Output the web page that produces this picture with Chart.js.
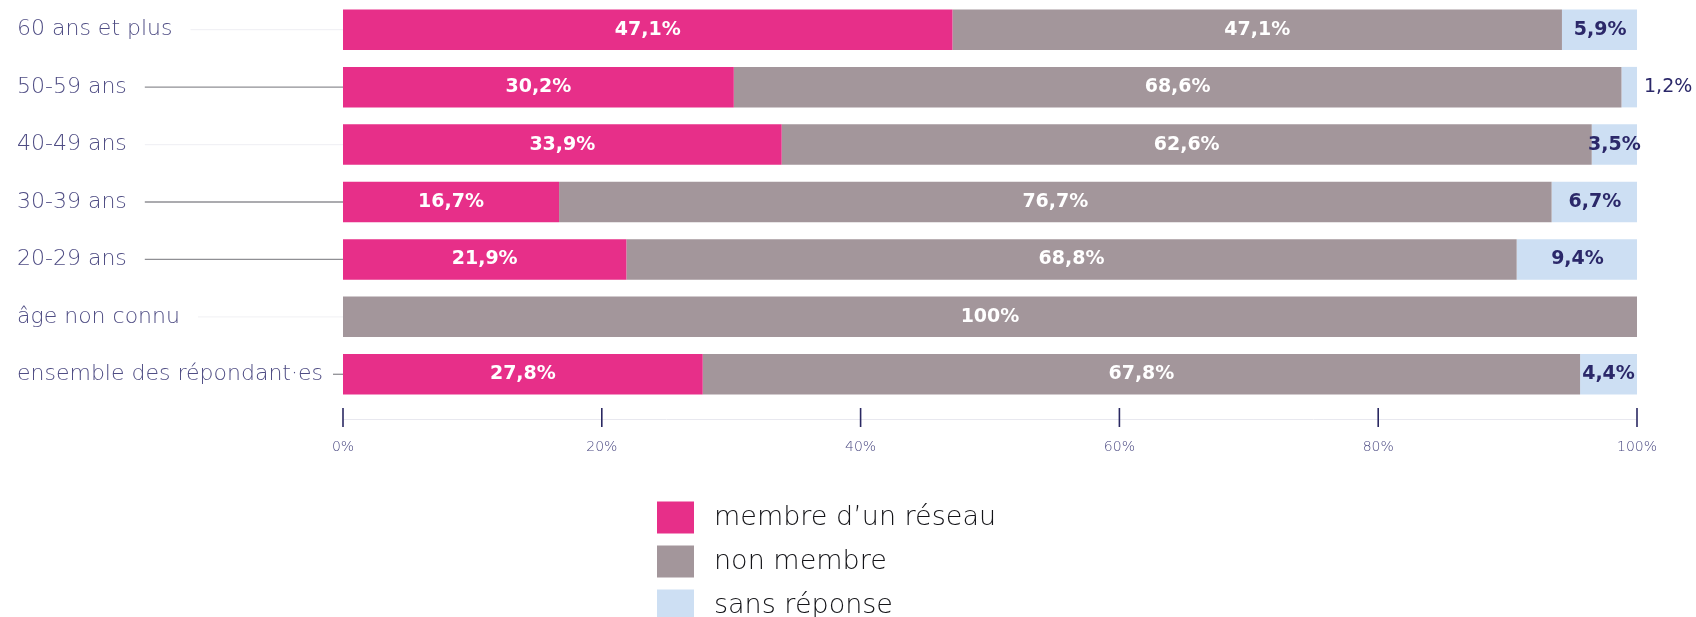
<!DOCTYPE html>
<html lang="fr">
<head>
<meta charset="utf-8">
<title>Appartenance à un réseau selon l'âge</title>
<script src="https://cdn.jsdelivr.net/npm/chart.js@4.4.1/dist/chart.umd.min.js"></script>
<style>
  html, body { margin: 0; padding: 0; background: #ffffff; }
  #wrap { position: relative; width: 1696px; height: 617px; }
</style>
</head>
<body>
<div id="wrap"><canvas id="chart" width="1696" height="617"></canvas></div>
<script>
// Age groups (rows, top to bottom)
const categories = [
  '60 ans et plus',
  '50-59 ans',
  '40-49 ans',
  '30-39 ans',
  '20-29 ans',
  'âge non connu',
  'ensemble des répondant·es'
];

// Shares in percent for each answer
const membre      = [47.1, 30.2, 33.9, 16.7, 21.9, 0,   27.8];
const nonMembre   = [47.1, 68.6, 62.6, 76.7, 68.8, 100, 67.8];
const sansReponse = [5.9,  1.2,  3.5,  6.7,  9.4,  0,   4.4];

const seriesNames = ['membre d\u2019un réseau', 'non membre', 'sans réponse'];
const xTickValues = [0, 20, 40, 60, 80, 100];

// Styling (kept apart from the data)
const colors = ['#e72f89', '#a3969b', '#cddff3'];
const valueColors = ['#ffffff', '#ffffff', '#2b2869'];
const leaderColors = ['#f1f1f5', '#8f8f94', '#f1f1f5', '#8f8f94', '#8f8f94', '#f3f3f6', '#8f8f94'];
const labelFont = '200 22px "DejaVu Sans"';

function fmtPercent(v) {
  return (Number.isInteger(v) ? String(v) : v.toFixed(1).replace('.', ',')) + '%';
}

// Thin connector lines between each row label and its bar
const leaderLines = {
  id: 'leaderLines',
  beforeDatasetsDraw(chart) {
    const { ctx, chartArea, scales } = chart;
    const y = scales.y;
    ctx.save();
    ctx.font = labelFont;
    ctx.lineWidth = 1.3;
    chart.data.labels.forEach((lab, i) => {
      const py = y.getPixelForValue(i);
      const start = Math.min(y.left + ctx.measureText(lab).width + 18, chartArea.left - 10);
      ctx.strokeStyle = leaderColors[i];
      ctx.beginPath();
      ctx.moveTo(start, py);
      ctx.lineTo(chartArea.left, py);
      ctx.stroke();
    });
    ctx.restore();
  }
};

// Percent axis line with tick marks below the bars
const percentAxis = {
  id: 'percentAxis',
  afterDraw(chart) {
    const { ctx, chartArea, scales } = chart;
    const x = scales.x;
    const axisY = chartArea.bottom + 16;
    ctx.save();
    ctx.strokeStyle = '#e8e8ef';
    ctx.lineWidth = 1;
    ctx.beginPath();
    ctx.moveTo(chartArea.left, axisY + 0.5);
    ctx.lineTo(chartArea.right, axisY + 0.5);
    ctx.stroke();
    ctx.strokeStyle = '#2a2862';
    ctx.lineWidth = 1.6;
    xTickValues.forEach(v => {
      const px = x.getPixelForValue(v);
      ctx.beginPath();
      ctx.moveTo(px, chartArea.bottom + 5);
      ctx.lineTo(px, chartArea.bottom + 24);
      ctx.stroke();
    });
    ctx.restore();
  }
};

// Value labels on each bar segment
const valueLabels = {
  id: 'valueLabels',
  afterDatasetsDraw(chart) {
    const { ctx } = chart;
    ctx.save();
    ctx.textBaseline = 'middle';
    chart.data.datasets.forEach((ds, di) => {
      const meta = chart.getDatasetMeta(di);
      meta.data.forEach((bar, i) => {
        const v = ds.data[i];
        if (!v) return;
        const text = fmtPercent(v);
        const w = Math.abs(bar.x - bar.base);
        if (w < 25) {
          ctx.font = 'normal 19px "DejaVu Sans"';
          ctx.fillStyle = '#2b2869';
          ctx.textAlign = 'left';
          ctx.fillText(text, bar.x + 7, bar.y);
        } else {
          ctx.font = 'bold 19px "DejaVu Sans"';
          ctx.fillStyle = valueColors[di];
          ctx.textAlign = 'center';
          ctx.fillText(text, (bar.x + bar.base) / 2, bar.y);
        }
      });
    });
    ctx.restore();
  }
};

// Vertical legend under the axis
const stackedLegend = {
  id: 'stackedLegend',
  afterDraw(chart) {
    const { ctx } = chart;
    const boxX = 657, boxW = 37, boxH = 32, top = 501.5, step = 44;
    ctx.save();
    ctx.font = '200 27px "DejaVu Sans"';
    ctx.textBaseline = 'middle';
    ctx.textAlign = 'left';
    chart.data.datasets.forEach((ds, i) => {
      const y0 = top + i * step;
      ctx.fillStyle = ds.backgroundColor;
      ctx.fillRect(boxX, y0, boxW, boxH);
      ctx.fillStyle = '#141418';
      ctx.fillText(ds.label, boxX + 57, y0 + boxH / 2);
    });
    ctx.restore();
  }
};

const seriesValues = [membre, nonMembre, sansReponse];

new Chart(document.getElementById('chart'), {
  type: 'bar',
  data: {
    labels: categories,
    datasets: seriesValues.map((vals, i) => ({
      label: seriesNames[i],
      data: vals,
      backgroundColor: colors[i],
      borderWidth: 0,
      categoryPercentage: 1,
      barPercentage: 0.705
    }))
  },
  options: {
    indexAxis: 'y',
    responsive: false,
    animation: false,
    layout: { padding: { left: 17, right: 59, top: 1, bottom: 144 } },
    plugins: {
      legend: { display: false },
      tooltip: { enabled: false }
    },
    scales: {
      x: {
        stacked: true,
        min: 0,
        max: 100,
        grid: { display: false },
        border: { display: false },
        afterBuildTicks(scale) {
          scale.ticks = xTickValues.map(v => ({ value: v }));
        },
        afterFit(scale) {
          scale.height = 70;
          scale.paddingLeft = 0;
          scale.paddingRight = 0;
        },
        ticks: {
          padding: 28,
          color: '#4a4982',
          font: { family: '"DejaVu Sans"', size: 14, weight: '200' },
          callback: v => v + '%'
        }
      },
      y: {
        stacked: true,
        grid: { display: false },
        border: { display: false },
        afterFit(scale) {
          scale.width = 326;
          scale.paddingTop = 0;
          scale.paddingBottom = 0;
        },
        ticks: {
          crossAlign: 'far',
          color: '#4f4d84',
          font: { family: '"DejaVu Sans"', size: 22, weight: '200' }
        }
      }
    }
  },
  plugins: [leaderLines, percentAxis, valueLabels, stackedLegend]
});
</script>
</body>
</html>
